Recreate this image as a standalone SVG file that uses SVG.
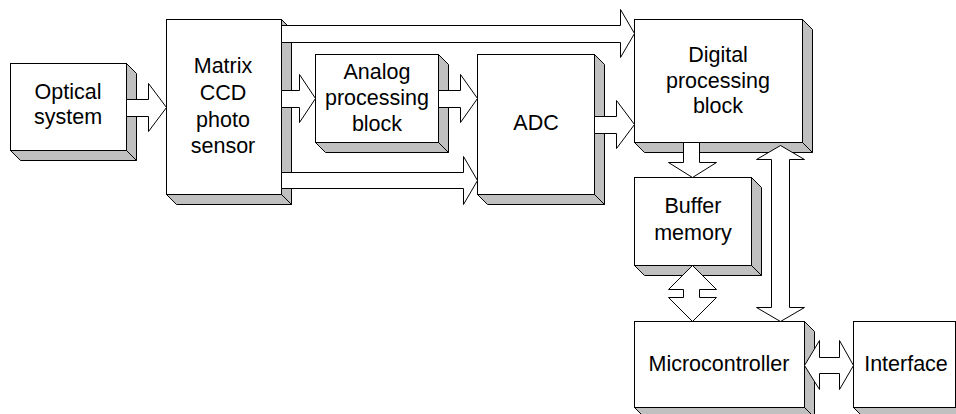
<svg xmlns="http://www.w3.org/2000/svg" width="956" height="414" viewBox="0 0 956 414">
<style>
.face{fill:#fff;stroke:#000;stroke-width:1}
.side{fill:#c0c0c0;stroke:#000;stroke-width:1;stroke-linejoin:miter}
.arr{fill:#fff;stroke:#000;stroke-width:1;stroke-linejoin:miter}
text{font-family:"Liberation Sans",Arial,sans-serif;font-size:21.5px;fill:#000;text-anchor:middle}
</style>
<rect width="956" height="414" fill="#fff"/>
<g id="optical">
<polygon class="side" points="126.5,63.5 136.5,73.5 136.5,160.5 126.5,150.5"/>
<polygon class="side" points="10.5,150.5 126.5,150.5 136.5,160.5 20.5,160.5"/>
<rect class="face" x="10.5" y="63.5" width="116" height="87"/>
<text x="68" y="99">Optical</text>
<text x="68" y="124">system</text>
</g>
<g id="matrix">
<polygon class="side" points="281.5,19.5 291.5,29.5 291.5,204.5 281.5,194.5"/>
<polygon class="side" points="166.5,194.5 281.5,194.5 291.5,204.5 176.5,204.5"/>
<rect class="face" x="166.5" y="19.5" width="115" height="175"/>
<text x="223" y="73">Matrix</text>
<text x="223" y="100">CCD</text>
<text x="223" y="127">photo</text>
<text x="223" y="153">sensor</text>
</g>
<g id="analog">
<polygon class="side" points="438.5,54.5 448.5,64.5 448.5,152.5 438.5,142.5"/>
<polygon class="side" points="315.5,142.5 438.5,142.5 448.5,152.5 325.5,152.5"/>
<rect class="face" x="315.5" y="54.5" width="123" height="88"/>
<text x="377" y="79">Analog</text>
<text x="377" y="105">processing</text>
<text x="377" y="131">block</text>
</g>
<g id="adc">
<polygon class="side" points="594.5,54.5 604.5,64.5 604.5,204.5 594.5,194.5"/>
<polygon class="side" points="477.5,194.5 594.5,194.5 604.5,204.5 487.5,204.5"/>
<rect class="face" x="477.5" y="54.5" width="117" height="140"/>
<text x="536" y="130">ADC</text>
</g>
<g id="digital">
<polygon class="side" points="802.5,19.5 812.5,29.5 812.5,152.5 802.5,142.5"/>
<polygon class="side" points="634.5,142.5 802.5,142.5 812.5,152.5 644.5,152.5"/>
<rect class="face" x="634.5" y="19.5" width="168" height="123"/>
<text x="718" y="62">Digital</text>
<text x="718" y="88">processing</text>
<text x="718" y="113">block</text>
</g>
<g id="buffer">
<polygon class="side" points="751.5,177.5 761.5,187.5 761.5,275.5 751.5,265.5"/>
<polygon class="side" points="634.5,265.5 751.5,265.5 761.5,275.5 644.5,275.5"/>
<rect class="face" x="634.5" y="177.5" width="117" height="88"/>
<text x="693" y="213">Buffer</text>
<text x="693" y="240">memory</text>
</g>
<g id="microcontroller">
<polygon class="side" points="804.5,321.5 814.5,331.5 814.5,417.5 804.5,407.5"/>
<polygon class="side" points="634.5,407.5 804.5,407.5 814.5,417.5 644.5,417.5"/>
<rect class="face" x="634.5" y="321.5" width="170" height="86"/>
<text x="719" y="371">Microcontroller</text>
</g>
<g id="interface">
<polygon class="side" points="955.5,321.5 965.5,331.5 965.5,417.5 955.5,407.5"/>
<polygon class="side" points="853.5,407.5 955.5,407.5 965.5,417.5 863.5,417.5"/>
<rect class="face" x="853.5" y="321.5" width="102" height="86"/>
<text x="906" y="371">Interface</text>
</g>
<g id="connectors">
<polygon class="arr" points="126.5,99.5 148.5,99.5 148.5,83.5 166.5,107.5 148.5,131.5 148.5,116.5 126.5,116.5"/>
<polygon class="arr" points="281.5,25.5 620.5,25.5 620.5,9.5 634.5,33.5 620.5,57.5 620.5,42.5 281.5,42.5"/>
<polygon class="arr" points="281.5,90.5 299.5,90.5 299.5,74.5 315.5,98.5 299.5,122.5 299.5,107.5 281.5,107.5"/>
<polygon class="arr" points="281.5,172.5 463.5,172.5 463.5,156.5 477.5,180.5 463.5,204.5 463.5,188.5 281.5,188.5"/>
<polygon class="arr" points="438.5,90.5 460.5,90.5 460.5,74.5 477.5,98.5 460.5,122.5 460.5,107.5 438.5,107.5"/>
<polygon class="arr" points="594.5,116.5 616.5,116.5 616.5,100.5 634.5,124.5 616.5,148.5 616.5,133.5 594.5,133.5"/>
<polygon class="arr" points="683.5,142.5 699.5,142.5 699.5,162.5 716.5,162.5 692.5,177.5 668.5,162.5 683.5,162.5"/>
<polygon class="arr" points="692.5,265.5 716.5,289.5 699.5,289.5 699.5,297.5 716.5,297.5 692.5,321.5 668.5,297.5 683.5,297.5 683.5,289.5 668.5,289.5"/>
<polygon class="arr" points="780.5,145.5 804.5,159.5 789.5,159.5 789.5,307.5 804.5,307.5 780.5,321.5 756.5,307.5 771.5,307.5 771.5,159.5 756.5,159.5"/>
<polygon class="arr" points="804.5,365.5 819.5,340.5 819.5,357.5 839.5,357.5 839.5,340.5 853.5,365.5 839.5,389.5 839.5,373.5 819.5,373.5 819.5,389.5"/>
</g>
</svg>
